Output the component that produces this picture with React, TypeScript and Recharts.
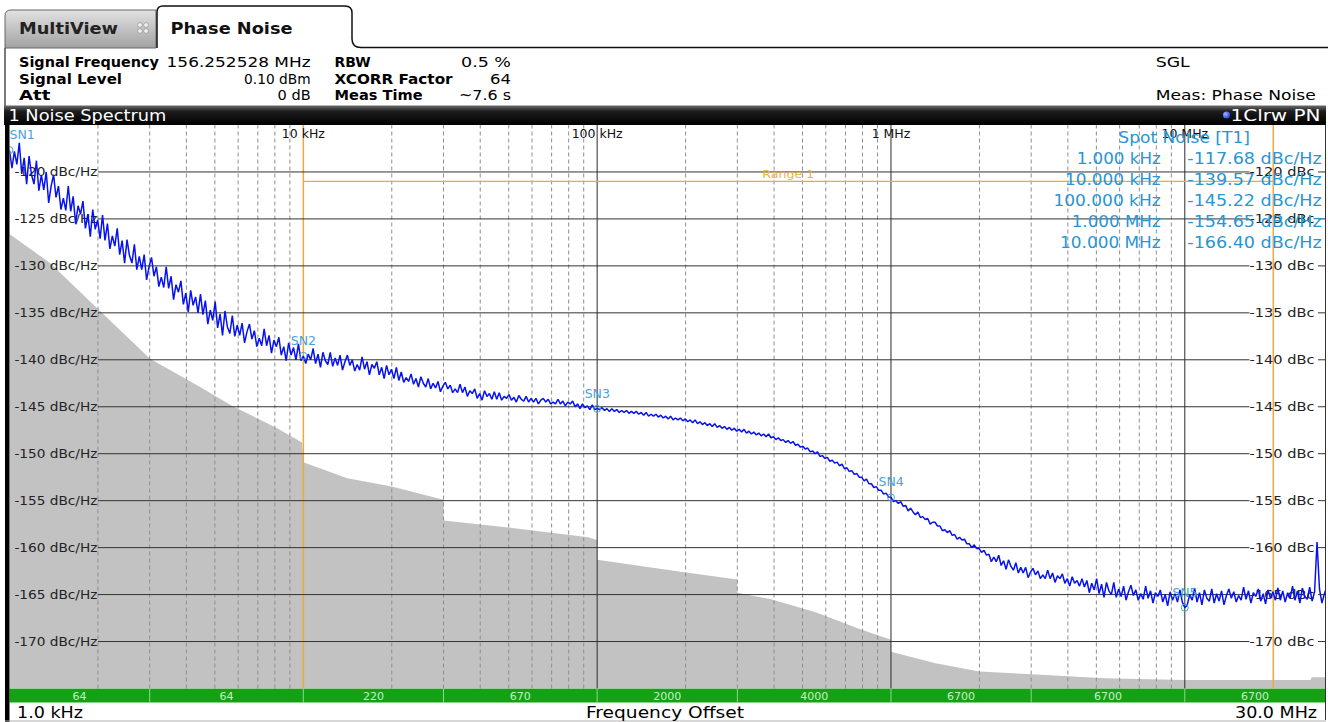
import {
  ComposedChart,
  Area,
  Line,
  XAxis,
  YAxis,
  ReferenceLine,
  ReferenceDot,
} from "recharts";

const W = 1328;
const H = 722;
const FONT = "'DejaVu Sans', Verdana, sans-serif";

const CYAN = "#2896d3";
const MARKER = "#45a4dc";
const ORANGE = "#f0a93c";
const TRACE_BLUE = "#0612f0";
const FLOOR_GRAY = "#c2c2c2";
const GREEN = "#14a214";

// axes
const F_START = 1e3;
const F_STOP = 30e6;
const DB_TOP = -115;
const DB_BOTTOM = -175;

const Y_TICKS = [-120, -125, -130, -135, -140, -145, -150, -155, -160, -165, -170];
const DECADE_HZ = [1e4, 1e5, 1e6, 1e7];
const DECADE_LABELS = ["10 kHz", "100 kHz", "1 MHz", "10 MHz"];
const MINOR_HZ = [
  2e3, 3e3, 4e3, 5e3, 6e3, 7e3, 8e3, 9e3,
  2e4, 3e4, 4e4, 5e4, 6e4, 7e4, 8e4, 9e4,
  2e5, 3e5, 4e5, 5e5, 6e5, 7e5, 8e5, 9e5,
  2e6, 3e6, 4e6, 5e6, 6e6, 7e6, 8e6, 9e6,
];
// level lines run between the left and right labels
const GRID_FROM_HZ = 2e3;
const GRID_TO_HZ = 16.6e6;
const GRID_TICK_HZ = 28.4e6;

// range 1
const RANGE_HZ = [1e4, 20e6];
const RANGE_LEVEL = -121;

// spot noise markers
const SPOT_HZ = [1e3, 1e4, 1e5, 1e6, 1e7];
const SPOT_DBC = [-117.68, -139.57, -145.22, -154.65, -166.4];
const SPOT_LABELS = ["1.000 kHz", "10.000 kHz", "100.000 kHz", "1.000 MHz", "10.000 MHz"];
const SPOT_LABEL_W = [84, 95.7, 107.3, 89, 100.7];

// xcorr factor per half decade
const BAND_EDGES_HZ = [1e3, 3e3, 1e4, 3e4, 1e5, 3e5, 1e6, 3e6, 1e7, 3e7];
const BAND_XCORR = ["64", "64", "220", "670", "2000", "4000", "6700", "6700", "6700"];

// measured phase noise, 120 points per decade from 1 kHz
const TRACE_POINTS_PER_DECADE = 120;
const TRACE_DBC = [
  -117.7, -119.6, -117.8, -119.2, -116.9, -120.2, -118.5, -121.3, -118.3, -120.3,
  -121.3, -118.8, -122.0, -120.3, -121.9, -120.0, -123.3, -121.5, -120.3, -122.7,
  -121.5, -124.0, -122.8, -124.1, -121.5, -124.2, -122.6, -125.5, -123.6, -124.5,
  -123.1, -126.0, -124.5, -126.9, -124.0, -126.1, -125.1, -127.1, -124.6, -127.3,
  -125.5, -128.2, -126.8, -127.9, -126.0, -128.8, -127.3, -129.7, -127.2, -128.9,
  -129.7, -127.7, -130.4, -129.0, -130.4, -128.8, -131.5, -130.1, -129.1, -131.1,
  -130.1, -132.2, -131.2, -132.3, -130.1, -132.4, -131.1, -133.6, -132.0, -132.8,
  -131.6, -134.1, -132.9, -134.9, -132.6, -134.2, -133.3, -135.0, -133.0, -135.2,
  -133.7, -136.2, -134.7, -135.8, -133.8, -136.6, -135.1, -137.4, -134.8, -136.5,
  -137.2, -135.3, -137.5, -136.3, -137.4, -136.1, -138.2, -137.0, -136.2, -137.8,
  -136.9, -138.6, -137.7, -138.5, -136.7, -138.5, -137.4, -139.3, -137.9, -138.6,
  -137.6, -139.5, -138.6, -140.1, -138.2, -139.5, -138.7, -140.0, -138.3, -140.1,
  -139.6, -140.4, -139.4, -140.0, -138.8, -140.4, -139.4, -140.8, -139.2, -140.1,
  -140.5, -139.2, -140.7, -139.8, -140.6, -139.5, -141.1, -140.2, -139.5, -140.6,
  -140.0, -141.2, -140.5, -141.1, -139.7, -141.0, -140.2, -141.6, -140.5, -140.9,
  -140.2, -141.6, -140.8, -142.0, -140.6, -141.6, -141.0, -142.0, -140.8, -142.2,
  -141.3, -142.4, -141.9, -142.3, -141.5, -142.6, -142.0, -142.9, -141.8, -142.5,
  -142.9, -142.0, -143.1, -142.5, -143.0, -142.3, -143.4, -142.8, -142.4, -143.1,
  -142.7, -143.5, -143.1, -143.5, -142.6, -143.5, -142.9, -143.9, -143.3, -143.6,
  -143.1, -144.1, -143.6, -144.3, -143.3, -143.9, -143.6, -144.2, -143.4, -144.2,
  -143.5, -144.3, -143.9, -144.1, -143.7, -144.3, -144.0, -144.5, -143.8, -144.2,
  -144.4, -143.9, -144.5, -144.1, -144.5, -144.1, -144.7, -144.3, -144.1, -144.5,
  -144.2, -144.7, -144.5, -144.7, -144.2, -144.7, -144.4, -144.9, -144.5, -144.7,
  -144.4, -145.0, -144.7, -145.2, -144.7, -145.1, -144.9, -145.3, -144.8, -145.3,
  -145.2, -145.3, -145.1, -145.4, -145.2, -145.5, -145.2, -145.5, -145.3, -145.6,
  -145.4, -145.6, -145.4, -145.7, -145.5, -145.7, -145.5, -145.8, -145.6, -145.9,
  -145.6, -146.0, -145.8, -146.0, -145.8, -146.1, -145.9, -146.2, -146.0, -146.3,
  -146.0, -146.4, -146.2, -146.4, -146.2, -146.5, -146.3, -146.6, -146.4, -146.7,
  -146.4, -146.8, -146.6, -146.9, -146.7, -147.0, -146.8, -147.1, -146.8, -147.2,
  -147.0, -147.3, -147.1, -147.4, -147.2, -147.5, -147.3, -147.6, -147.4, -147.7,
  -147.4, -147.8, -147.6, -147.9, -147.7, -148.0, -147.8, -148.1, -147.9, -148.2,
  -147.9, -148.3, -148.2, -148.5, -148.3, -148.6, -148.5, -148.8, -148.6, -148.9,
  -148.7, -149.1, -149.0, -149.3, -149.2, -149.5, -149.4, -149.8, -149.7, -150.0,
  -149.8, -150.3, -150.2, -150.5, -150.4, -150.8, -150.7, -151.0, -150.9, -151.3,
  -151.1, -151.6, -151.5, -151.9, -151.8, -152.2, -152.1, -152.5, -152.5, -152.9,
  -152.7, -153.2, -153.2, -153.6, -153.5, -153.9, -153.9, -154.3, -154.2, -154.6,
  -154.65, -155.1, -155.0, -155.3, -155.1, -155.6, -155.5, -156.1, -155.8, -156.2,
  -156.5, -156.2, -156.8, -156.7, -157.0, -156.9, -157.5, -157.3, -157.3, -157.7,
  -157.7, -158.2, -158.1, -158.4, -158.2, -158.7, -158.6, -159.1, -158.9, -159.2,
  -159.1, -159.6, -159.6, -160.0, -159.7, -160.1, -160.1, -160.5, -160.3, -160.8,
  -160.7, -161.5, -161.0, -161.5, -160.8, -161.9, -161.4, -162.3, -161.3, -162.0,
  -162.4, -161.6, -162.7, -162.1, -162.7, -162.1, -163.2, -162.6, -162.2, -162.9,
  -162.5, -163.3, -162.9, -163.3, -162.4, -163.3, -162.7, -163.7, -163.0, -163.3,
  -162.8, -163.8, -163.3, -164.1, -163.1, -163.8, -163.5, -164.1, -163.3, -164.2,
  -163.5, -164.8, -163.8, -164.5, -163.3, -164.9, -163.9, -165.3, -163.7, -164.6,
  -165.0, -163.7, -165.3, -164.4, -165.2, -164.1, -165.6, -164.7, -164.0, -165.1,
  -164.5, -165.6, -164.9, -165.5, -164.1, -165.4, -164.6, -165.9, -164.8, -165.2,
  -164.5, -165.8, -165.0, -166.2, -164.7, -165.6, -164.9, -165.8, -164.5, -165.8,
  -166.4, -166.1, -165.0, -165.6, -164.3, -165.8, -164.8, -166.1, -164.5, -165.4,
  -165.7, -164.4, -165.9, -164.9, -165.7, -164.6, -166.1, -165.1, -164.4, -165.4,
  -164.7, -165.8, -165.1, -165.6, -164.2, -165.5, -164.6, -165.9, -164.8, -165.2,
  -164.4, -165.7, -164.9, -166.0, -164.5, -165.4, -164.7, -165.6, -164.3, -165.6,
  -164.6, -165.8, -164.8, -165.4, -164.1, -165.6, -164.6, -165.9, -164.3, -165.2,
  -165.5, -164.2, -165.7, -164.7, -159.4, -164.4, -165.9, -164.9, -164.2,
];

// grey area (correlation floor), stepped
const FLOOR_HZ = [
  1000, 1373, 2033, 3009, 4454, 5633, 8143, 9900, 10000, 14100, 20000, 30000, 30000,
  48000, 93300, 100000, 100000, 195000, 300000, 300000, 391000, 557000, 786000,
  1000000, 1000000, 1417000, 2000000, 3127000, 5330000, 10000000, 26800000, 27000000, 30000000,
];
const FLOOR_DBC = [
  -126.6, -129.7, -134.8, -139.9, -142.9, -144.8, -147.3, -148.8, -150.9, -152.6, -153.5, -154.9, -157.1,
  -157.8, -158.9, -159.2, -161.3, -162.6, -163.4, -164.8, -165.5, -166.9, -168.7,
  -169.8, -171.1, -172.3, -173.2, -173.5, -173.9, -174.1, -174.1, -173.8, -173.8,
];

const traceData = TRACE_DBC.map((v, i) => ({
  f: F_START * Math.pow(10, i / TRACE_POINTS_PER_DECADE),
  pn: v,
}));
const floorData = FLOOR_HZ.map((f, i) => ({ f, floor: FLOOR_DBC[i] }));
const bandCenters = BAND_XCORR.map((_, i) => Math.sqrt(BAND_EDGES_HZ[i] * BAND_EDGES_HZ[i + 1]));
const bandTicks = [...BAND_EDGES_HZ, ...bandCenters];

function T({
  x, y, w, size = 13, weight = 400, fill = "#000", anchor = "start", children,
}: {
  x: number; y: number; w?: number; size?: number; weight?: number; fill?: string;
  anchor?: "start" | "middle" | "end"; children: React.ReactNode;
}) {
  return (
    <text
      x={x}
      y={y}
      fontFamily={FONT}
      fontSize={size}
      fontWeight={weight}
      fill={fill}
      textAnchor={anchor}
      {...(w ? { textLength: w, lengthAdjust: "spacingAndGlyphs" } : {})}
    >
      {children}
    </text>
  );
}

function BandTick(props: any) {
  const { x, y, payload } = props;
  const v = payload?.value;
  const c = bandCenters.indexOf(v);
  if (c >= 0) {
    return (
      <T x={x} y={y + 11.5} size={11} fill="#c6eec6" anchor="middle">
        {BAND_XCORR[c]}
      </T>
    );
  }
  if (v === F_START) {
    return <T x={x + 7.5} y={y + 29.5} size={16} w={66}>1.0 kHz</T>;
  }
  if (v === F_STOP) {
    return <T x={x - 8} y={y + 29.5} size={16} w={82} anchor="end">30.0 MHz</T>;
  }
  return <line x1={x} x2={x} y1={y} y2={y + 14} stroke="#8fd68f" strokeWidth={1} />;
}

function LevelLabel({ viewBox, value }: any) {
  const { x, y, width } = viewBox;
  return (
    <g>
      <T x={x - 0.5} y={y + 4.5} size={12.5} w={83} anchor="end" fill="#222">
        {`${value} dBc/Hz`}
      </T>
      <T x={x + width} y={y + 4.5} size={12.5} w={65} fill="#222">
        {`${value} dBc`}
      </T>
    </g>
  );
}

function DecadeLabel({ viewBox, text }: any) {
  return (
    <T x={viewBox.x} y={viewBox.y + 13} size={12.5} anchor="middle" fill="#111">
      {text}
    </T>
  );
}

function MarkerLabel({ viewBox, text }: any) {
  const cx = viewBox.x + viewBox.width / 2;
  const cy = viewBox.y + viewBox.height / 2;
  return (
    <T x={Math.max(cx - 12.5, 9.5)} y={cy - 11} size={12.5} fill={MARKER}>
      {text}
    </T>
  );
}

export default function App() {
  return (
    <div
      style={{
        position: "absolute",
        left: 0,
        top: 0,
        width: W,
        height: H,
        background: "#fff",
        overflow: "hidden",
        fontFamily: FONT,
      }}
    >
      {/* underlay: xcorr band */}
      <svg width={W} height={H} style={{ position: "absolute", left: 0, top: 0 }}>
        <rect x={9.5} y={688.5} width={1315.5} height={14} fill={GREEN} />
      </svg>

      <div style={{ position: "absolute", left: 0, top: 0 }}>
        <ComposedChart width={W} height={H} margin={{ top: 125, right: 3, left: 9.5, bottom: 0 }}>
          <XAxis
            dataKey="f"
            type="number"
            scale="log"
            domain={[F_START, F_STOP]}
            allowDataOverflow
            ticks={bandTicks}
            interval={0}
            tickLine={false}
            axisLine={false}
            tickSize={0}
            tickMargin={0}
            height={33.5}
            tick={(p: any) => <BandTick {...p} />}
          />
          <YAxis type="number" domain={[DB_BOTTOM, DB_TOP]} allowDataOverflow hide />

          <Area
            data={floorData}
            dataKey="floor"
            type="linear"
            baseValue={DB_BOTTOM}
            fill={FLOOR_GRAY}
            fillOpacity={1}
            stroke="none"
            isAnimationActive={false}
          />

          {MINOR_HZ.map((f) => (
            <ReferenceLine key={`m${f}`} x={f} stroke="#8e8e8e" strokeDasharray="4 3" strokeWidth={1} />
          ))}
          {DECADE_HZ.map((f, i) => (
            <ReferenceLine
              key={`d${f}`}
              x={f}
              stroke={f === RANGE_HZ[0] ? ORANGE : "#2b2b2b"}
              strokeWidth={f === RANGE_HZ[0] ? 1.5 : 1}
              label={(p: any) => <DecadeLabel {...p} text={DECADE_LABELS[i]} />}
            />
          ))}
          <ReferenceLine x={RANGE_HZ[1]} stroke={ORANGE} strokeWidth={1.5} />

          {Y_TICKS.map((v) => (
            <ReferenceLine
              key={`y${v}`}
              segment={[{ x: GRID_FROM_HZ, y: v }, { x: GRID_TO_HZ, y: v }]}
              stroke="#333"
              strokeWidth={1}
              label={(p: any) => <LevelLabel {...p} value={v} />}
            />
          ))}
          {Y_TICKS.map((v) => (
            <ReferenceLine
              key={`t${v}`}
              segment={[{ x: GRID_TICK_HZ, y: v }, { x: F_STOP, y: v }]}
              stroke="#333"
              strokeWidth={1}
            />
          ))}

          <ReferenceLine
            segment={[{ x: RANGE_HZ[0], y: RANGE_LEVEL }, { x: RANGE_HZ[1], y: RANGE_LEVEL }]}
            stroke={ORANGE}
            strokeWidth={1.2}
            label={(p: any) => (
              <T
                x={p.viewBox.x + p.viewBox.width / 2}
                y={p.viewBox.y - 3}
                size={11}
                w={52}
                anchor="middle"
                fill="#e9b548"
              >
                Range 1
              </T>
            )}
          />

          <Line
            data={traceData}
            dataKey="pn"
            type="linear"
            stroke={TRACE_BLUE}
            strokeWidth={1.5}
            strokeLinejoin="bevel"
            dot={false}
            isAnimationActive={false}
          />

          {SPOT_HZ.map((f, i) => (
            <ReferenceDot
              key={`sn${f}`}
              x={f}
              y={SPOT_DBC[i]}
              r={3.5}
              fill="none"
              stroke={MARKER}
              strokeWidth={1}
              ifOverflow="visible"
              label={(p: any) => <MarkerLabel {...p} text={`SN${i + 1}`} />}
            />
          ))}
        </ComposedChart>
      </div>

      {/* overlay: instrument frame and texts */}
      <svg
        width={W}
        height={H}
        style={{ position: "absolute", left: 0, top: 0, pointerEvents: "none" }}
      >
        <defs>
          <linearGradient id="tabGrey" x1="0" y1="0" x2="0" y2="1">
            <stop offset="0%" stopColor="#e2e2e2" />
            <stop offset="100%" stopColor="#a2a2a2" />
          </linearGradient>
          <linearGradient id="barBlack" x1="0" y1="0" x2="0" y2="1">
            <stop offset="0%" stopColor="#6c6c6c" />
            <stop offset="30%" stopColor="#1c1c1c" />
            <stop offset="100%" stopColor="#000" />
          </linearGradient>
          <radialGradient id="dotBlue" cx="0.35" cy="0.35" r="0.7">
            <stop offset="0%" stopColor="#9fb6ff" />
            <stop offset="100%" stopColor="#1f3fe0" />
          </radialGradient>
        </defs>

        {/* tabs */}
        <path d="M 5 48 L 5 16 Q 5 10 11 10 L 156 10 L 156 48 Z" fill="url(#tabGrey)" stroke="#666" strokeWidth={1} />
        <T x={19} y={34} size={15} weight={700} w={99} fill="#222">MultiView</T>
        {[0, 1].map((r) =>
          [0, 1].map((c) => (
            <circle key={`ic${r}${c}`} cx={140 + c * 6} cy={25 + r * 6} r={2.3} fill="#f2f2f2" stroke="#8a8a8a" strokeWidth={0.6} />
          ))
        )}
        <path
          d="M 157 48 L 157 12 Q 157 6 163 6 L 345 6 Q 352 6 352 13 L 352 39 Q 352 47.5 361 47.5 L 1328 47.5"
          fill="#fff"
          stroke="#111"
          strokeWidth={1.5}
        />
        <T x={170.5} y={34} size={15} weight={700} w={122} fill="#111">Phase Noise</T>
        <line x1={5} x2={5} y1={48} y2={106} stroke="#222" strokeWidth={1.2} />

        {/* info panel */}
        <T x={19} y={67} size={13.5} weight={700} w={140}>Signal Frequency</T>
        <T x={310.6} y={67} size={13.5} w={144} anchor="end">156.252528 MHz</T>
        <T x={334.6} y={67} size={13.5} weight={700} w={36}>RBW</T>
        <T x={511} y={67} size={13.5} w={50} anchor="end">0.5 %</T>
        <T x={1155.7} y={67} size={13.5} w={34}>SGL</T>

        <T x={19} y={83.5} size={13.5} weight={700} w={103}>Signal Level</T>
        <T x={310.6} y={83.5} size={13.5} w={66.5} anchor="end">0.10 dBm</T>
        <T x={334.6} y={83.5} size={13.5} weight={700} w={118}>XCORR Factor</T>
        <T x={511} y={83.5} size={13.5} w={21} anchor="end">64</T>

        <T x={19} y={100} size={13.5} weight={700} w={31.5}>Att</T>
        <T x={310.6} y={100} size={13.5} w={33} anchor="end">0 dB</T>
        <T x={334.6} y={100} size={13.5} weight={700} w={88}>Meas Time</T>
        <T x={511} y={100} size={13.5} w={52} anchor="end">~7.6 s</T>
        <T x={1155.7} y={100} size={13.5} w={160}>Meas: Phase Noise</T>

        {/* window title bar */}
        <rect x={4} y={105.5} width={1322} height={19.5} fill="url(#barBlack)" />
        <T x={8.4} y={121} size={16} w={158} fill="#fff">1 Noise Spectrum</T>
        <circle cx={1226.5} cy={115} r={3.6} fill="url(#dotBlue)" />
        <T x={1230.5} y={121} size={16} w={90} fill="#fff">1Clrw PN</T>

        {/* frame */}
        <rect x={5} y={125} width={4.5} height={597} fill="#000" />
        <line x1={1325.5} x2={1325.5} y1={125} y2={720} stroke="#333" strokeWidth={1} />
        <line x1={5} x2={1326} y1={721} y2={721} stroke="#b0b0b0" strokeWidth={1} />

        <T x={665} y={717.5} size={16} w={158} anchor="middle">Frequency Offset</T>

        {/* spot noise table */}
        <T x={1118.3} y={142.7} size={15.5} w={131.7} fill={CYAN}>Spot Noise [T1]</T>
        {SPOT_LABELS.map((lab, i) => (
          <g key={lab}>
            <T x={1160.7} y={163.5 + 21 * i} size={15.5} w={SPOT_LABEL_W[i]} anchor="end" fill={CYAN}>
              {lab}
            </T>
            <T x={1187.3} y={163.5 + 21 * i} size={15.5} w={134.4} fill={CYAN}>
              {`${SPOT_DBC[i].toFixed(2)} dBc/Hz`}
            </T>
          </g>
        ))}
      </svg>
    </div>
  );
}
